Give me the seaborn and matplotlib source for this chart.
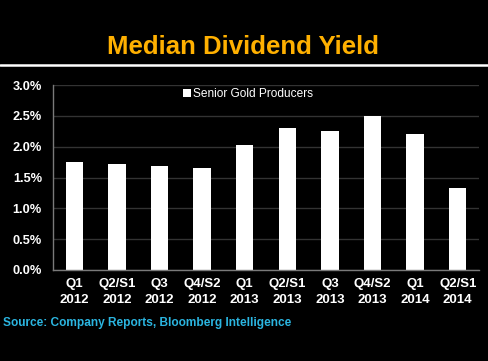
import matplotlib
matplotlib.use("Agg")
import matplotlib.pyplot as plt
import seaborn as sns
import pandas as pd
import numpy as np

quarters = ["Q1\n2012", "Q2/S1\n2012", "Q3\n2012", "Q4/S2\n2012", "Q1\n2013",
            "Q2/S1\n2013", "Q3\n2013", "Q4/S2\n2013", "Q1\n2014", "Q2/S1\n2014"]
yields = [1.75, 1.72, 1.68, 1.65, 2.03, 2.30, 2.25, 2.50, 2.21, 1.33]
series_name = "Senior Gold Producers"

df = pd.DataFrame({"Quarter": quarters, "Yield": yields, "Series": series_name})

sns.set_style("dark")
plt.rcParams['font.family'] = ['Liberation Sans', 'DejaVu Sans']

fig = plt.figure(figsize=(4.88, 3.61), dpi=100, facecolor="black")
ax = fig.add_axes([53/488, 1 - 270/361, 426/488, 185/361])
ax.set_facecolor("black")

sns.barplot(data=df, x="Quarter", y="Yield", hue="Series", palette={series_name: "white"},
            width=0.41, linewidth=0, ax=ax)

ax.set_ylim(0, 3.0)
ax.set_yticks(np.arange(0, 3.01, 0.5))
ax.set_yticklabels([f"{v:.1f}%" for v in np.arange(0, 3.01, 0.5)],
                   color="white", fontsize=9.2, fontweight="bold")
ax.set_xticks(range(len(quarters)))
ax.set_xticklabels(quarters, color="white", fontsize=9.5, fontweight="bold", linespacing=1.4)
ax.tick_params(axis="y", length=0, pad=8)
ax.tick_params(axis="x", length=0, pad=6)
ax.set_xlabel("")
ax.set_ylabel("")
ax.grid(axis="y", color="#333333", linewidth=1)
ax.grid(axis="x", visible=False)
ax.set_axisbelow(True)
for side in ["top", "right"]:
    ax.spines[side].set_visible(False)
for side in ["left", "bottom"]:
    ax.spines[side].set_visible(True)
    ax.spines[side].set_color("#7a7a7a")
    ax.spines[side].set_linewidth(1)

leg = ax.legend(loc="upper left", bbox_to_anchor=(0.28, 1.04), frameon=False,
                fontsize=8.6, handlelength=0.7, handleheight=0.7, handletextpad=0.15)
for t in leg.get_texts():
    t.set_color("white")

fig.text(243/488, 1 - 47/361, "Median Dividend Yield", color="#FFB000",
         fontsize=18.5, fontweight="bold", ha="center", va="center")
fig.add_artist(plt.Line2D([0, 1], [1 - 64.5/361, 1 - 64.5/361], color="white",
                          linewidth=1.8, transform=fig.transFigure))
fig.text(3/488, 1 - 323/361, "Source: Company Reports, Bloomberg Intelligence",
         color="#2BB5E0", fontsize=8.6, fontweight="bold", ha="left", va="center")

fig.savefig("out.png", dpi=100, facecolor="black")
